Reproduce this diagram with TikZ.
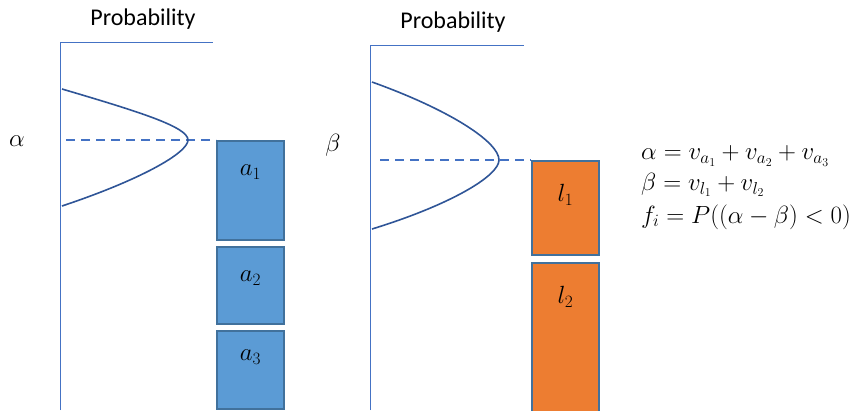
\documentclass[tikz,border=0pt]{standalone}
\usepackage{fontspec}
\setmainfont{Carlito}
\definecolor{axisblue}{HTML}{4472C4}
\definecolor{curveblue}{HTML}{2F5597}
\definecolor{boxblue}{HTML}{5B9BD5}
\definecolor{boxedge}{HTML}{41719C}
\definecolor{boxorange}{HTML}{ED7D31}
\tikzset{
  axisline/.style={draw=axisblue, line width=0.9pt},
  curveline/.style={draw=curveblue, line width=1.6pt},
  dashline/.style={draw=axisblue, line width=1.8pt, dash pattern=on 9pt off 6pt},
  bar/.style={draw=boxedge, line width=1.8pt, rectangle, inner sep=0pt, anchor=north west},
  bluebar/.style={bar, fill=boxblue},
  orangebar/.style={bar, fill=boxorange},
  barlabel/.style={font=\fontsize{24}{28}\selectfont, anchor=center, inner sep=0pt},
  axlabel/.style={font=\fontsize{24}{28}\selectfont, inner sep=0pt},
  eqlabel/.style={font=\fontsize{24.5}{29}\selectfont, anchor=west, inner sep=0pt}
}
\begin{document}
\begin{tikzpicture}[x=1pt,y=-1pt]
\useasboundingbox (0,0) rectangle (861,410);
% left panel
\coordinate (lt) at (60,410);
\coordinate (ltop) at (60,42);
\coordinate (ltr) at (213,42);
\draw[axisline] (lt) -- (ltop) -- (ltr);
\node[axlabel] (p1) at (143,19) {Probability};
\node[bluebar, minimum width=67pt, minimum height=99pt] (a1) at (216,140) {};
\node[bluebar, minimum width=67pt, minimum height=77pt] (a2) at (216,246) {};
\node[bluebar, minimum width=67pt, minimum height=78pt] (a3) at (216,330) {};
\node[barlabel] (a1t) at ([yshift=-32pt]a1.north) {$a_1$};
\node[barlabel] (a2t) at ([yshift=-32pt]a2.north) {$a_2$};
\node[barlabel] (a3t) at ([yshift=-27pt]a3.north) {$a_3$};
\coordinate (d1) at (66,140);
\draw[dashline] (d1) -- (a1.north west);
\draw[curveline] (62,89) .. controls (140,112) and (188,127) .. (188,140) .. controls (188,153) and (140,180) .. (62,206);
\node[barlabel] (alpha) at (17,141) {$\alpha$};
% right panel
\coordinate (rt) at (370,410);
\coordinate (rtop) at (370,45);
\coordinate (rtr) at (524,45);
\draw[axisline] (rt) -- (rtop) -- (rtr);
\node[axlabel] (p2) at (453,22) {Probability};
\node[orangebar, minimum width=67pt, minimum height=94pt] (l1) at (531,160) {};
\node[orangebar, minimum width=67pt, minimum height=152pt] (l2) at (531,262) {};
\node[barlabel] (l1t) at ([yshift=-35pt]l1.north) {$l_1$};
\node[barlabel] (l2t) at ([yshift=-35pt]l2.north) {$l_2$};
\coordinate (d2) at (380,160);
\draw[dashline] (d2) -- (l1.north west);
\draw[curveline] (372,82) .. controls (450,110) and (499,142) .. (499,160) .. controls (499,176) and (450,205) .. (372,229);
\node[barlabel] (beta) at (333,145) {$\beta$};
% equations
\node[eqlabel] (e1) at (641,156) {$\alpha = v_{a_1} + v_{a_2} + v_{a_3}$};
\node[eqlabel] (e2) at (641,185) {$\beta = v_{l_1} + v_{l_2}$};
\node[eqlabel] (e3) at (641,217) {$f_i = P\bigl((\alpha-\beta) < 0\bigr)$};
\end{tikzpicture}
\end{document}
